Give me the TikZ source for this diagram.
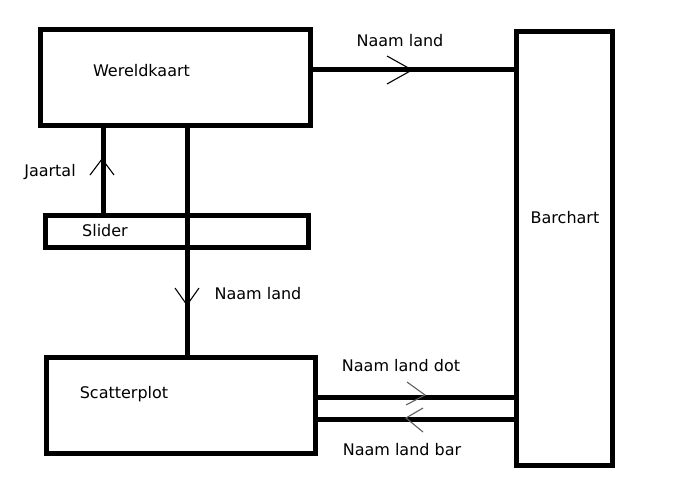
\documentclass[tikz,border=0pt]{standalone}
\usepackage{fontspec}
\setmainfont{DejaVu Sans}
\usepackage{xcolor}
\definecolor{chevgray}{RGB}{95,95,95}
\usetikzlibrary{positioning,calc}

\tikzset{
  box/.style={draw, line width=5pt, inner sep=0pt, outer sep=0pt},
  flow/.style={line width=5pt},
  chev/.style={line width=1.1pt},
  lbl/.style={font=\fontsize{16}{19}\selectfont, inner sep=0pt},
}

\begin{document}
\begin{tikzpicture}[x=1pt,y=-1pt]
\useasboundingbox (0,0) rectangle (700,500);

% Boxes
\node[box, minimum width=270pt, minimum height=95pt] (kaart) at (175,77.5) {};
\node[box, minimum width=263pt, minimum height=32pt] (slider) at (176.5,231) {};
\node[box, minimum width=269pt, minimum height=96pt] (scatter) at (180.5,405) {};
\node[box, minimum width=96pt, minimum height=433pt] (bar) at (564,248.5) {};

% Box texts
\node[lbl] (kaarttxt) at (141.5,71) {Wereldkaart};
\node[lbl] (slidertxt) at (105,231) {Slider};
\node[lbl] (scattertxt) at (124,394) {Scatterplot};
\node[lbl] (bartxt) at (565,218) {Barchart};

% Connectors
\coordinate (k1) at ($(kaart.east)+(0,-7.5)$);
\draw[flow] (k1) -- (k1 -| bar.west);
\draw[flow] (slider.north -| 103,0) -- (kaart.south -| 103,0);
\draw[flow] (kaart.south -| 187,0) -- (scatter.north -| 187,0);
\coordinate (s1) at (scatter.east |- 0,397);
\coordinate (s2) at (scatter.east |- 0,419);
\draw[flow] (s1) -- (s1 -| bar.west);
\draw[flow] (s2) -- (s2 -| bar.west);

% Chevrons
\draw[chev] (387,56) -- (412,70) -- (387,84);
\draw[chev] (90,175) -- (102,159) -- (114,175);
\draw[chev] (175,288) -- (187,305) -- (199,288);
\draw[chev, chevgray] (407,382) -- (425,395) -- (406,405);
\draw[chev, chevgray] (423,408) -- (406,418) -- (423,432);

% Connector labels
\node[lbl] (lbltop) at (400,41) {Naam land};
\node[lbl] (lbljaar) at (50,172) {Jaartal};
\node[lbl] (lblmid) at (258,294) {Naam land};
\node[lbl] (lbldot) at (401,366) {Naam land dot};
\node[lbl] (lblbar) at (402,450) {Naam land bar};
\end{tikzpicture}
\end{document}
